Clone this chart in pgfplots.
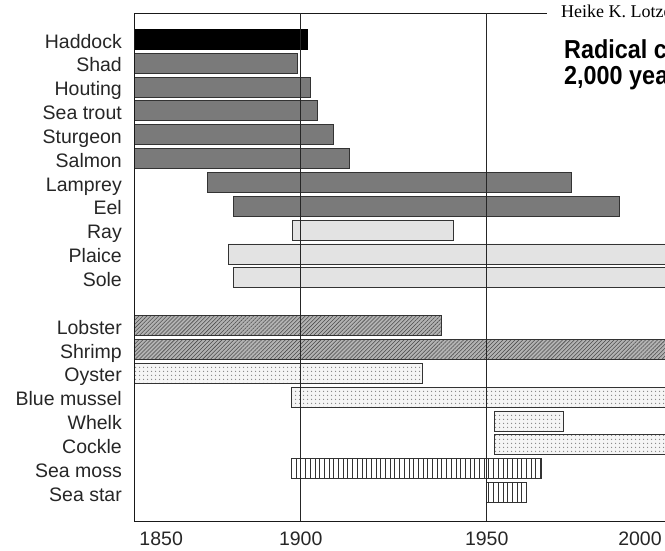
\documentclass[border=0pt]{standalone}
\usepackage{pgfplots}
\pgfplotsset{compat=1.18}
\usepackage{pgfplotstable}
\usepackage{fontspec}
\usepackage{graphicx}
\setmainfont{Liberation Sans}
\newfontfamily\seriffont{Liberation Serif}
\usetikzlibrary{patterns.meta}

\pgfplotstableread{
row start end g
1 1850 1901.9 1
2 1850 1899.2 2
3 1850 1902.5 2
4 1850 1904.5 2
5 1850 1908.9 2
6 1850 1913.0 2
7 1875.0 1972.9 2
8 1881.9 1985.6 2
9 1897.8 1941.0 3
10 1880.5 2010 3
11 1881.9 2010 3
13 1850 1937.9 4
14 1850 2010 4
15 1850 1932.6 5
16 1897.6 2010 5
17 1952.0 1970.6 5
18 1952.2 2010 5
19 1897.6 1964.6 6
20 1950.0 1960.6 6
}\bars

\begin{document}
\begin{tikzpicture}
\useasboundingbox (0,0) rectangle (665pt,550pt);
\begin{axis}[
  at={(135pt,29pt)}, anchor=south west,
  width=545pt, height=508pt, scale only axis,
  xbar stacked, bar width=20pt,
  xmin=1855.46, xmax=2001.96,
  ymin=-0.103, ymax=21.195, y dir=reverse,
  axis on top,
  axis line style={black!90, line width=1pt},
  major tick length=0pt,
  xtick={1862.5,1900,1950,1991.2},
  xticklabels={1850,1900,1950,2000},
  extra x ticks={1900,1950},
  extra x tick labels={},
  extra x tick style={grid=major, major grid style={black!85, line width=1pt}},
  ytick={1,2,3,4,5,6,7,8,9,10,11,13,14,15,16,17,18,19,20},
  yticklabels={Haddock,Shad,Houting,Sea trout,Sturgeon,Salmon,Lamprey,Eel,Ray,Plaice,Sole,Lobster,Shrimp,Oyster,Blue mussel,Whelk,Cockle,Sea moss,Sea star},
  /pgf/number format/assume math mode=true,
  yticklabel style={anchor=base east, inner sep=0pt, xshift=-13pt, yshift=-8.7pt, font=\fontsize{19.5}{22}\selectfont, text=black!85},
  xticklabel style={anchor=base, inner sep=0pt, yshift=-24pt, font=\fontsize{19.5}{22}\selectfont, text=black!85},
  every axis plot/.append style={draw=black!80, line width=0.8pt},
]
\addplot[draw=none, fill=none] table[x=start, y=row]{\bars};
\addplot[fill=black, draw=black] table[x expr={\thisrow{g}==1 ? \thisrow{end}-\thisrow{start} : 0}, y=row]{\bars};
\addplot[fill=black!52] table[x expr={\thisrow{g}==2 ? \thisrow{end}-\thisrow{start} : 0}, y=row]{\bars};
\addplot[fill=black!11] table[x expr={\thisrow{g}==3 ? \thisrow{end}-\thisrow{start} : 0}, y=row]{\bars};
\addplot[fill=black!30, postaction={pattern={Lines[angle=45,distance=2.8pt,line width=0.55pt]}, pattern color=black!70}] table[x expr={\thisrow{g}==4 ? \thisrow{end}-\thisrow{start} : 0}, y=row]{\bars};
\addplot[fill=black!4, postaction={pattern={Dots[distance=4pt,radius=0.8pt]}, pattern color=black!50}] table[x expr={\thisrow{g}==5 ? \thisrow{end}-\thisrow{start} : 0}, y=row]{\bars};
\addplot[fill=white, postaction={pattern={Lines[angle=90,distance=4.7pt,line width=0.75pt]}, pattern color=black!80}] table[x expr={\thisrow{g}==6 ? \thisrow{end}-\thisrow{start} : 0}, y=row]{\bars};
\end{axis}
\fill[white] (547pt,445pt) rectangle (670pt,552pt);
\node[anchor=base west, inner sep=0pt, font=\seriffont\fontsize{18}{20}\selectfont] at (561pt,532.5pt) {Heike K. Lotze};
\node[anchor=base west, inner sep=0pt, font=\bfseries\fontsize{26}{28}\selectfont] at (564pt,491pt) {\scalebox{0.9}[1]{Radical changes in the Wadden Sea fauna}};
\node[anchor=base west, inner sep=0pt, font=\bfseries\fontsize{26}{28}\selectfont] at (564pt,465pt) {\scalebox{0.9}[1]{2,000 years}};
\end{tikzpicture}
\end{document}
